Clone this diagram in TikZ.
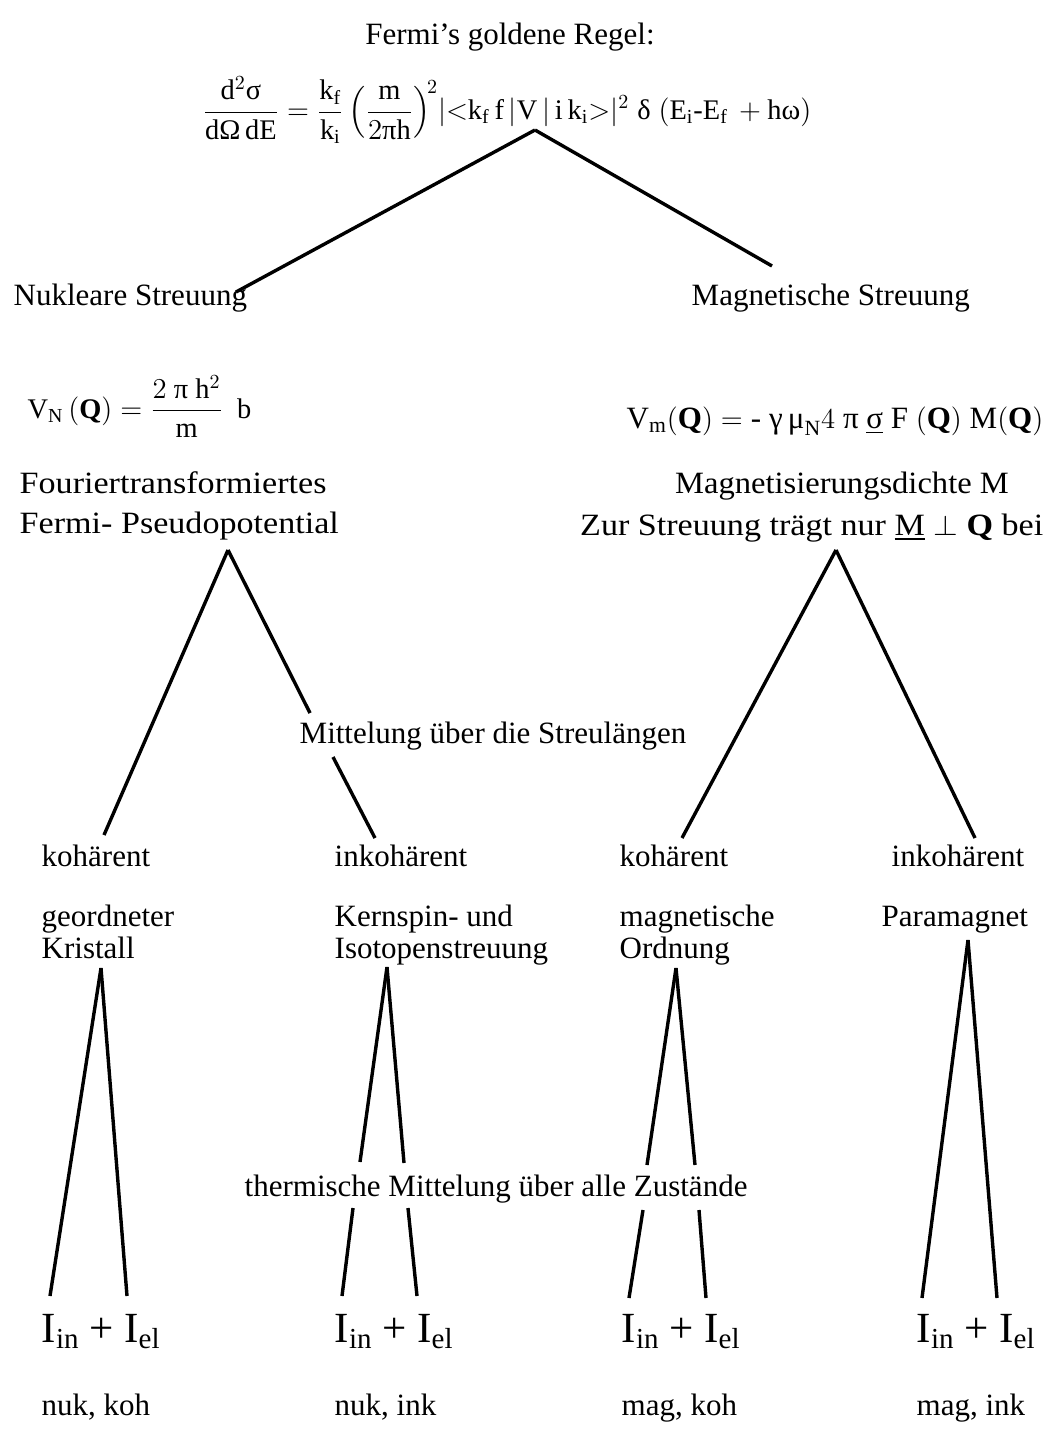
\documentclass[tikz,border=0pt]{standalone}
\usepackage{amsmath}
\usepackage{fontspec}
\setmainfont{Liberation Serif}
\newcommand{\lowsub}[1]{\raisebox{-0.35ex}{\fontsize{14.5}{14.5}\selectfont #1}}
\begin{document}
\begin{tikzpicture}[x=0.5pt,y=-0.5pt,line width=1.7pt,
  lbl/.style={inner sep=0pt,font=\fontsize{15.5}{18}\selectfont},
  eqn/.style={inner sep=0pt,font=\fontsize{14.2}{16}\selectfont},
  sumlbl/.style={inner sep=0pt,font=\fontsize{21.5}{24}\selectfont}]
\useasboundingbox (0,0) rectangle (1055,1429);
% title and formula
\node[lbl,anchor=base] (txt0) at (510,45) {Fermi's goldene Regel:};
\node[eqn] (txt1) at (507,110) {$\dfrac{\mathrm{d}^2\textrm{σ}}{\mathrm{d}\textrm{Ω}\,\mathrm{dE}}=\dfrac{\mathrm{k_f}}{\mathrm{k_i}}\,\Bigl(\dfrac{\mathrm{m}}{2\textrm{π}\mathrm{h}}\Bigr)^{\!2}|{<}\mathrm{k_f\,f\,|V\,|\,i\,k_i}{>}|^2\;\textrm{δ}\;(\mathrm{E_i}\textrm{-}\mathrm{E_f}\,+\mathrm{h}\textrm{ω})$};
\coordinate (pt0) at (535,130);
\coordinate (pt1) at (236,292);
\coordinate (pt2) at (772,266);
\draw (pt0) -- (pt1);
\draw (pt0) -- (pt2);
\node[lbl,anchor=base west] (txt2) at (12,305) {Nukleare Streuung};
\node[lbl,anchor=base west] (txt3) at (690,305) {Magnetische Streuung};
% potentials
\node[eqn,anchor=base west] (txt4) at (26,418) {$\mathrm{V_N\,(\mathbf{Q})}=\dfrac{2\ \textrm{π}\ \mathrm{h}^2}{\mathrm{m}}\ \ \mathrm{b}$};
\node[lbl,anchor=base east] (txt5) at (1045,428) {$\mathrm{V_m(\mathbf{Q})} = \textrm{- γ\,μ}_{\mathrm{N}}4\ \textrm{π}\ \underline{\textrm{σ}}\ \mathrm{F\ (\mathbf{Q})\ M(\mathbf{Q})}$};
\node[lbl,anchor=base west] (txt6) at (18,493) {\scalebox{1.1}[1]{Fouriertransformiertes}};
\node[lbl,anchor=base west] (txt7) at (18,533) {\scalebox{1.1}[1]{Fermi- Pseudopotential}};
\node[lbl,anchor=base] (txt8) at (842,493) {\scalebox{1.05}[1]{Magnetisierungsdichte M}};
\node[lbl,anchor=base east] (txt9) at (1045,535) {\scalebox{1.1}[1]{Zur Streuung trägt nur \underline{M} $\perp$ \textbf{Q} bei}};
% nuclear branch
\coordinate (pt3) at (228,550);
\coordinate (pt4) at (104,835);
\coordinate (pt5) at (310,713);
\coordinate (pt6) at (333,757);
\coordinate (pt7) at (375,838);
\draw (pt3) -- (pt4);
\draw (pt3) -- (pt5);
\draw (pt6) -- (pt7);
\node[lbl,anchor=base west] (txt10) at (298,743) {Mittelung über die Streulängen};
% magnetic branch
\coordinate (pt8) at (836,550);
\coordinate (pt9) at (682,838);
\coordinate (pt10) at (975,838);
\draw (pt8) -- (pt9);
\draw (pt8) -- (pt10);
% cases
\node[lbl,anchor=base west] (txt11) at (40,866) {kohärent};
\node[lbl,anchor=base west] (txt12) at (333,866) {inkohärent};
\node[lbl,anchor=base west] (txt13) at (618,866) {kohärent};
\node[lbl,anchor=base west] (txt14) at (890,866) {inkohärent};
\node[lbl,anchor=base west] (txt15) at (40,926) {geordneter};
\node[lbl,anchor=base west] (txt16) at (40,958) {Kristall};
\node[lbl,anchor=base west] (txt17) at (333,926) {Kernspin- und};
\node[lbl,anchor=base west] (txt18) at (333,958) {Isotopenstreuung};
\node[lbl,anchor=base west] (txt19) at (618,926) {magnetische};
\node[lbl,anchor=base west] (txt20) at (618,958) {Ordnung};
\node[lbl,anchor=base west] (txt21) at (880,926) {Paramagnet};
% lower trees
\coordinate (pt11) at (101,968);
\coordinate (pt12) at (50,1296);
\coordinate (pt13) at (127,1296);
\draw (pt11) -- (pt12);
\draw (pt11) -- (pt13);
\coordinate (pt14) at (387,967);
\coordinate (pt15) at (360,1162);
\coordinate (pt16) at (404,1163);
\coordinate (pt17) at (353,1208);
\coordinate (pt18) at (342,1296);
\coordinate (pt19) at (408,1208);
\coordinate (pt20) at (417,1296);
\draw (pt14) -- (pt15);
\draw (pt14) -- (pt16);
\draw (pt17) -- (pt18);
\draw (pt19) -- (pt20);
\coordinate (pt21) at (676,968);
\coordinate (pt22) at (647,1165);
\coordinate (pt23) at (695,1165);
\coordinate (pt24) at (643,1210);
\coordinate (pt25) at (629,1298);
\coordinate (pt26) at (699,1210);
\coordinate (pt27) at (706,1298);
\draw (pt21) -- (pt22);
\draw (pt21) -- (pt23);
\draw (pt24) -- (pt25);
\draw (pt26) -- (pt27);
\coordinate (pt28) at (968,940);
\coordinate (pt29) at (922,1298);
\coordinate (pt30) at (997,1298);
\draw (pt28) -- (pt29);
\draw (pt28) -- (pt30);
\node[lbl,anchor=base west] (txt22) at (243,1196) {thermische Mittelung über alle Zustände};
% results
\node[sumlbl,anchor=base west] (txt23) at (40,1342) {I\lowsub{in} + I\lowsub{el}};
\node[sumlbl,anchor=base west] (txt24) at (333,1342) {I\lowsub{in} + I\lowsub{el}};
\node[sumlbl,anchor=base west] (txt25) at (620,1342) {I\lowsub{in} + I\lowsub{el}};
\node[sumlbl,anchor=base west] (txt26) at (915,1342) {I\lowsub{in} + I\lowsub{el}};
\node[lbl,anchor=base west] (txt27) at (40,1415) {nuk, koh};
\node[lbl,anchor=base west] (txt28) at (333,1415) {nuk, ink};
\node[lbl,anchor=base west] (txt29) at (620,1415) {mag, koh};
\node[lbl,anchor=base west] (txt30) at (915,1415) {mag, ink};
\end{tikzpicture}
\end{document}
